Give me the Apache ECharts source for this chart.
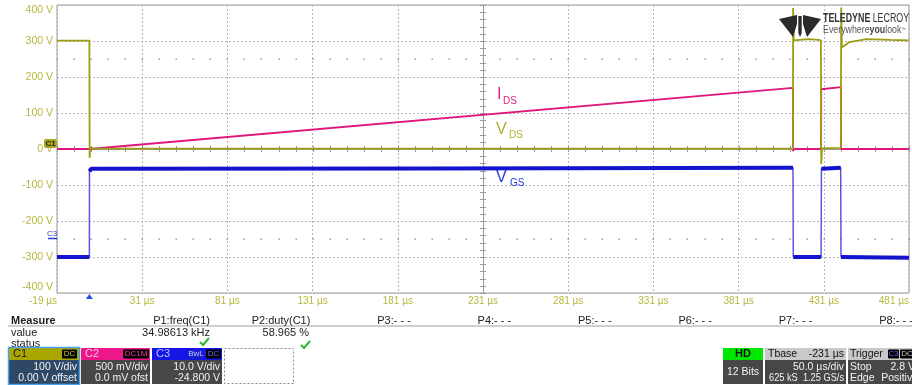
<!DOCTYPE html>
<html><head><meta charset="utf-8">
<script src="https://cdn.jsdelivr.net/npm/echarts@6/dist/echarts.min.js"></script>
<style>html,body{margin:0;padding:0;background:#fff;overflow:hidden}#c{width:912px;height:385px}</style>
</head><body><div id="c"></div><script>
// ---- axis ticks (50 us/div, 100 V/div on C1 scale) ----
const timeTicks = [-19, 31, 81, 131, 181, 231, 281, 331, 381, 431, 481]; // µs
const voltTicks = [-400, -300, -200, -100, 0, 100, 200, 300, 400];      // V (C1)

// ---- channel settings ----
const c1VoltsPerDiv = 100;
const c2VoltsPerDiv = 0.5;
const c3VoltsPerDiv = 10, c3Offset = -24.8;

// ---- C1: V_DS (volts) ----
const vdsTime = [-19, 0, 0.15, 0.5, 2, 412.9, 413, 413.4, 422, 428, 429.3, 429.5, 430, 441, 441.2, 441.6, 446, 456, 470, 481];
const vdsVolt = [301, 301, -25, 5, 1, 1, 392, 302, 305, 303, 302, -42, 2, 3, 393, 282, 297, 305, 303, 302];

// ---- C2: I_DS probe (volts) ----
const idsTime = [-19, 0, 412.9, 413, 413.4, 429.4, 429.5, 441.0, 441.1, 481];
const idsVolt = [0, 0, 0.85, -0.03, 0, 0, 0.83, 0.86, 0, 0];

// ---- C3: V_GS (volts) ----
const vgsTime = [-19, 0, 0.05, 1, 200, 412.9, 413.1, 429.4, 429.6, 440.9, 441.1, 481];
const vgsVolt = [-5.2, -5.2, 18.6, 19.3, 19.4, 19.6, -5.2, -5.2, 19.3, 19.6, -5.2, -5.4];

const toC1 = (v, vpd, off) => (v + (off || 0)) / vpd * c1VoltsPerDiv;
const vdsData = vdsTime.map((t, i) => [t, vdsVolt[i]]);
const idsData = idsTime.map((t, i) => [t, toC1(idsVolt[i], c2VoltsPerDiv)]);
const vgsData = vgsTime.map((t, i) => [t, toC1(vgsVolt[i], c3VoltsPerDiv, c3Offset)]);
// flat (noisy, thick) parts of V_GS: break the line at the fast edges
const vgsFlat = [];
vgsData.forEach((p, i) => {
  if (i > 0 && Math.abs(p[1] - vgsData[i - 1][1]) > 100) vgsFlat.push([p[0], null]);
  vgsFlat.push(p);
});

const FONT = 'Arial, "Liberation Sans", sans-serif';
const AX = '#b7b63c';
const C_VDS = '#9d9c14', C_IDS = '#e0177b', C_VGS = '#1414cf';

const chart = echarts.init(document.getElementById('c'), null, {renderer: 'canvas'});

function reticule(params, api) {
  const ch = [];
  const p0 = api.coord([timeTicks[0], 0]);
  const p1 = api.coord([timeTicks[timeTicks.length - 1], 0]);
  const top = api.coord([231, 400]), bot = api.coord([231, -400]);
  const ls = {stroke: '#9a9a9a', lineWidth: 1};
  ch.push({type: 'line', shape: {x1: p0[0], y1: Math.round(p0[1]) + 0.5, x2: p1[0], y2: Math.round(p0[1]) + 0.5}, style: ls});
  ch.push({type: 'line', shape: {x1: Math.round(top[0]) + 0.5, y1: top[1], x2: Math.round(top[0]) + 0.5, y2: bot[1]}, style: ls});
  for (let v = -400; v <= 400; v += 20) {
    const p = api.coord([231, v]);
    ch.push({type: 'line', shape: {x1: p[0] - 3, y1: Math.round(p[1]) + 0.5, x2: p[0] + 3, y2: Math.round(p[1]) + 0.5}, style: ls});
  }
  for (let t = -19; t <= 481; t += 10) {
    const p = api.coord([t, 0]);
    ch.push({type: 'line', shape: {x1: Math.round(p[0]) + 0.5, y1: p[1] - 3, x2: Math.round(p[0]) + 0.5, y2: p[1] + 3}, style: ls});
    [250, -250].forEach(v => {
      const q = api.coord([t, v]);
      ch.push({type: 'rect', shape: {x: Math.round(q[0]) - 0.5, y: Math.round(q[1]) - 0.5, width: 1.5, height: 1.5}, style: {fill: '#a0a0a0'}});
    });
  }
  return {type: 'group', children: ch};
}

const option = {
  animation: false,
  backgroundColor: '#ffffff',
  grid: {left: 57, right: 0, top: 5, bottom: 92, show: true, borderColor: '#9a9a9a', borderWidth: 1},
  xAxis: {
    type: 'value', min: timeTicks[0], max: timeTicks[timeTicks.length - 1], interval: 50,
    axisLine: {show: false}, axisTick: {show: false},
    splitLine: {show: true, lineStyle: {color: '#b4b4b4', type: [2, 2], width: 1}},
    axisLabel: {color: AX, fontSize: 10, fontFamily: FONT, margin: 3, formatter: v => Math.round(v) + ' µs',
      alignMinLabel: 'right', alignMaxLabel: 'right'}
  },
  yAxis: {
    type: 'value', min: voltTicks[0], max: voltTicks[voltTicks.length - 1], interval: 100,
    axisLine: {show: false}, axisTick: {show: false},
    splitLine: {show: true, lineStyle: {color: '#b4b4b4', type: [2, 2], width: 1}},
    axisLabel: {color: AX, fontSize: 10.5, fontFamily: FONT, margin: 4, formatter: v => v + ' V',
      verticalAlignMaxLabel: 'top', verticalAlignMinLabel: 'bottom'}
  },
  series: [
    {type: 'custom', name: 'reticule', renderItem: reticule, data: [[231, 0]], silent: true, z: 1},
    {type: 'line', name: 'VGS edges', data: vgsData, showSymbol: false, lineStyle: {color: '#5656e0', width: 1.5}, z: 2},
    {type: 'line', name: 'VGS', data: vgsFlat, showSymbol: false, connectNulls: false, lineStyle: {color: C_VGS, width: 4}, z: 2},
    {type: 'line', name: 'IDS', data: idsData, showSymbol: false, lineStyle: {color: C_IDS, width: 1.8}, z: 3},
    {type: 'line', name: 'VDS', data: vdsData, showSymbol: false, lineStyle: {color: C_VDS, width: 1.8}, z: 4}
  ]
};
chart.setOption(option);

// ---------------- graphics (annotations, logo, info panel) ----------------
const g = [];
// text helper: element placed at (x,y) with optional horizontal squeeze sx
const T = (text, x, y, o, sx) => g.push({type: 'text', z: 100, x, y, scaleX: sx || 1, scaleY: 1,
  style: Object.assign({text, x: 0, y: 0, fill: '#222', font: '11px ' + FONT, align: 'left', verticalAlign: 'middle'}, o || {})});
const R = (x, y, w, h, fill, o) => g.push(Object.assign({type: 'rect', z: 99, shape: {x, y, width: w, height: h, r: (o && o.r) || 0}, style: Object.assign({fill}, (o && o.style) || {})}));

// trace labels
T('I', 497, 87, {fill: '#e2247e', font: '16px ' + FONT, verticalAlign: 'top'});
T('DS', 503, 96, {fill: '#e2247e', font: '10px ' + FONT, verticalAlign: 'top'});
T('V', 496, 122, {fill: '#b0ae2a', font: '16px ' + FONT, verticalAlign: 'top'});
T('DS', 509, 130, {fill: '#b0ae2a', font: '10px ' + FONT, verticalAlign: 'top'});
T('V', 496, 170, {fill: '#2338e0', font: '16px ' + FONT, verticalAlign: 'top'});
T('GS', 510, 178, {fill: '#2338e0', font: '10px ' + FONT, verticalAlign: 'top'});

// logo
const LC = '#2a2a2a';
g.push({type: 'polygon', z: 100, shape: {points: [[779, 19], [797, 15], [797, 24], [793, 37]]}, style: {fill: LC}});
g.push({type: 'polygon', z: 100, shape: {points: [[821, 19], [803, 15], [803, 24], [807, 37]]}, style: {fill: LC}});
g.push({type: 'polygon', z: 100, shape: {points: [[798.3, 16], [801.7, 16], [801.7, 33], [800, 37], [798.3, 33]]}, style: {fill: LC}});
T('{b|TELEDYNE} {r|LECROY}', 823, 19, {rich: {b: {font: 'bold 12px ' + FONT, fill: '#333'}, r: {font: '12px ' + FONT, fill: '#333'}}}, 0.74);
T('{r|Everywhere}{b|you}{r|look}{t|™}', 823, 30, {rich: {b: {font: 'bold 10.5px ' + FONT, fill: '#444'}, r: {font: '10.5px ' + FONT, fill: '#555'}, t: {font: '5px ' + FONT, fill: '#555'}}}, 0.84);

// channel markers on left
R(44, 139, 13, 9, '#a9a81c', {r: 2});
T('C1', 50.5, 143.5, {fill: '#222', font: 'bold 8px ' + FONT, align: 'center'});
T('C3', 52, 233.5, {fill: '#2a3ad8', font: '8px ' + FONT, align: 'center'});
g.push({type: 'line', z: 100, shape: {x1: 48, y1: 238.5, x2: 57, y2: 238.5}, style: {stroke: '#2a3ad8', lineWidth: 1.5}});

// trigger marker (t = 0)
const trg = chart.convertToPixel({gridIndex: 0}, [0, -400]);
g.push({type: 'polygon', z: 100, shape: {points: [[trg[0] - 3.5, trg[1] + 6], [trg[0] + 3.5, trg[1] + 6], [trg[0], trg[1] + 1]]}, style: {fill: '#2450e8'}});

// measure table
T('Measure', 11, 321, {font: 'bold 11px ' + FONT});
R(8, 325, 904, 2, '#cfcfcf');
const pLabels = ['P1:freq(C1)', 'P2:duty(C1)', 'P3:- - -', 'P4:- - -', 'P5:- - -', 'P6:- - -', 'P7:- - -', 'P8:- - -'];
pLabels.forEach((s, i) => T(s, 210 + 100.4 * i, 321, {align: 'right'}));
T('value', 11, 332.5);
T('34.98613 kHz', 210, 332.5, {align: 'right'});
T('58.965 %', 309, 332.5, {align: 'right'});
T('status', 11, 343.5);
[[200, 342], [301, 345]].forEach(([x, y]) => g.push({type: 'polyline', z: 100, shape: {points: [[x, y], [x + 3, y + 3], [x + 9, y - 4]]}, style: {stroke: '#2db82d', lineWidth: 2, fill: null}}));

// channel boxes
const BODY = '#474747';
const BF = '10.5px ' + FONT;
function badge(x, w, text, color, bg) {
  R(x, 349.5, w, 9, bg || '#000', {r: 1});
  T(text, x + w / 2, 354.2, {fill: color, font: '8px ' + FONT, align: 'center'});
}
function chBox(x, w, head, label, labelColor, body, l1, l2) {
  R(x, 348, w, 12, head);
  R(x, 360, w, 24, body);
  T(label, x + 4, 354.3, {fill: labelColor, font: '11px ' + FONT});
  T(l1, x + w - 2, 367, {fill: '#f2f2f2', align: 'right', font: BF});
  T(l2, x + w - 2, 378.5, {fill: '#f2f2f2', align: 'right', font: BF});
}
chBox(9, 70, '#aaa800', 'C1', '#1a1a1a', '#2e4866', '100 V/div', '0.00 V offset');
badge(62, 15, 'DC', '#c8c640');
g.push({type: 'rect', z: 101, shape: {x: 8.5, y: 347.5, width: 71, height: 37}, style: {fill: null, stroke: '#4aa2ea', lineWidth: 1.5}});
chBox(81, 69, '#ec178a', 'C2', '#ffc4e0', BODY, '500 mV/div', '0.0 mV ofst');
badge(123, 26, 'DC1M', '#ff3c9c');
chBox(152, 70, '#1515e6', 'C3', '#b8c4ff', BODY, '10.0 V/div', '-24.800 V');
badge(188, 16, 'BwL', '#b8c4ff', '#1f1fd0');
badge(206, 15, 'DC', '#5a6aff');
g.push({type: 'rect', z: 100, shape: {x: 224.5, y: 348.5, width: 69, height: 35}, style: {fill: null, stroke: '#8a8a8a', lineWidth: 1, lineDash: [2, 2]}});

// timebase / trigger boxes
R(723, 348, 40, 12, '#00e800');
T('HD', 743, 354.3, {align: 'center', font: 'bold 11px ' + FONT, fill: '#111'});
R(723, 360, 40, 24, BODY);
T('12 Bits', 743, 372, {align: 'center', fill: '#f2f2f2', font: BF});

R(765, 348, 81, 12, '#c9c9c9');
T('Tbase', 768, 354.3, {fill: '#111', font: BF});
T('-231 µs', 844, 354.3, {fill: '#111', align: 'right', font: BF});
R(765, 360, 81, 24, BODY);
T('50.0 µs/div', 844, 367, {fill: '#f2f2f2', align: 'right', font: BF});
T('625 kS  1.25 GS/s', 844, 378.5, {fill: '#f2f2f2', align: 'right', font: BF}, 0.88);
R(848, 348, 70, 12, '#c9c9c9');
T('Trigger', 850, 354.3, {fill: '#111', font: BF});
badge(888, 11, 'C3', '#5a6aff');
badge(900, 14, 'DC', '#c8c8c8');
R(848, 360, 70, 24, BODY);
T('Stop', 850, 367, {fill: '#f2f2f2', font: BF});
T('2.8 V', 915, 367, {fill: '#f2f2f2', align: 'right', font: BF});
T('Edge', 850, 378.5, {fill: '#f2f2f2', font: BF});
T('Positive', 918, 378.5, {fill: '#f2f2f2', align: 'right', font: BF});

chart.setOption({graphic: {elements: g}});
</script></body></html>
